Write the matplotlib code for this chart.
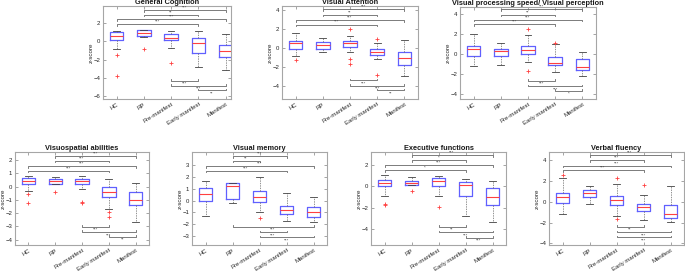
import matplotlib
matplotlib.use('Agg')
import matplotlib.pyplot as plt

plt.rcParams['font.family'] = ['Liberation Sans', 'DejaVu Sans']

groups = ['HC', 'RP', 'Pre-manifest', 'Early manifest', 'Manifest']

# (lower whisker, q1, median, q3, upper whisker) per group
gc_box = [(-0.87, 0.15, 0.55, 0.98, 1.15), (0.5, 0.58, 0.87, 1.2, 1.2),
          (-0.7, 0.15, 0.33, 0.76, 1.16), (-2.76, -1.27, -0.22, 0.36, 1.16),
          (-3.16, -1.75, -1.09, -0.44, 0.76)]
gc_out = [[-1.53, -3.8], [-0.87], [-2.33], [], []]
gc_top = [(2, 5, 3.42, '***'), (2, 4, 2.91, '**'), (1, 5, 2.4, '***'), (1, 4, 1.89, '***')]
gc_bot = [(3, 4, -4.29, '***'), (3, 5, -4.84, '***'), (4, 5, -5.35, '**')]

va_box = [(-0.91, -0.07, 0.49, 0.77, 1.54), (-0.46, -0.14, 0.28, 0.63, 1.09),
          (-0.39, 0.07, 0.49, 0.77, 1.26), (-1.19, -0.8, -0.49, -0.1, 0.49),
          (-2.98, -1.82, -1.09, -0.46, 0.81)]
va_out = [[-1.3], [], [1.96, -1.19, -1.68], [0.98, -2.88], []]
va_top = [(2, 5, 4.07, '***'), (2, 4, 3.5, '**'), (1, 5, 2.95, '***'), (1, 4, 2.46, '***')]
va_bot = [(3, 4, -3.44, '***'), (3, 5, -4.0, '***'), (4, 5, -4.49, '**')]

vp_box = [(-1.23, -0.23, 0.47, 0.77, 1.97), (-1.1, -0.2, 0.27, 0.47, 1.07),
          (-0.83, -0.03, 0.37, 0.83, 1.87), (-1.83, -1.13, -0.93, -0.27, 1.0),
          (-2.23, -1.63, -1.27, -0.53, 0.17)]
vp_out = [[], [], [2.47, -1.73], [1.13], []]
vp_top = [(2, 5, 4.47, '***'), (2, 4, 3.93, '**'), (1, 5, 3.43, '***'), (1, 4, 2.97, '***')]
vp_bot = [(3, 4, -2.67, '***'), (3, 5, -3.23, '***'), (4, 5, -3.7, '*')]

vs_box = [(-0.33, 0.2, 0.4, 0.63, 0.78), (0.18, 0.18, 0.4, 0.6, 0.7),
          (-0.18, 0.18, 0.4, 0.6, 0.83), (-1.68, -0.78, -0.43, 0.0, 0.6),
          (-2.68, -1.4, -1.0, -0.38, 0.23)]
vs_out = [[-0.58, -1.25], [-0.43], [-1.18, -1.25], [-1.93, -2.28], []]
vs_top = [(2, 5, 2.3, '***'), (2, 4, 1.95, '***'), (1, 5, 1.55, '***'), (1, 4, 1.2, '***')]
vs_bot = [(3, 4, -3.03, '***'), (3, 5, -3.43, '***'), (4, 5, -3.8, '**')]

vm_box = [(-1.31, 0.0, 0.58, 1.08, 1.67), (-0.19, 0.17, 1.19, 1.47, 1.47),
          (-1.0, -0.11, 0.28, 0.8, 1.94), (-1.72, -1.11, -0.83, -0.42, 0.64),
          (-1.83, -1.39, -0.92, -0.5, 0.31)]
vm_out = [[], [], [-1.47], [], []]
vm_top = [(2, 4, 3.72, '***'), (2, 3, 3.33, '**'), (1, 5, 2.89, '***'), (1, 4, 2.5, '***')]
vm_bot = [(2, 5, -2.22, '***'), (3, 4, -2.67, '***'), (3, 5, -3.08, '***')]

ef_box = [(-0.92, 0.03, 0.32, 0.63, 1.05), (0.13, 0.13, 0.32, 0.48, 0.89),
          (-0.95, 0.06, 0.54, 0.76, 0.95), (-2.79, -0.92, 0.13, 0.41, 0.7),
          (-3.4, -1.75, -1.02, -0.13, 0.48)]
ef_out = [[-1.65, -1.78], [-0.41], [-1.97], [], []]
ef_top = [(2, 5, 2.95, '***'), (2, 4, 2.48, '*'), (1, 5, 2.0, '***'), (1, 4, 1.52, '*')]
ef_bot = [(3, 4, -3.81, '**'), (3, 5, -4.35, '***'), (4, 5, -4.89, '***')]

vf_box = [(-1.13, -0.13, 0.45, 0.84, 2.29), (-0.19, 0.42, 0.84, 1.13, 1.48),
          (-1.35, -0.32, 0.13, 0.55, 1.71), (-1.77, -0.9, -0.48, -0.19, 0.65),
          (-1.94, -1.52, -1.16, -0.32, 1.48)]
vf_out = [[2.55], [], [2.29, -1.68], [1.65], []]
vf_top = [(2, 5, 4.48, '***'), (2, 4, 4.0, '***'), (1, 5, 3.48, '***'), (1, 4, 3.06, '***')]
vf_bot = [(3, 4, -2.42, '**'), (3, 5, -2.94, '***'), (3, 5, -3.42, '***')]


def panel(fig, px, title, box, out, top, bot, ylim, yticks, xlim=(0.5, 5.5)):
    # px = (left, right, top, bottom) in pixels
    W, H = 685, 271
    l, r, t, b = px
    ax = fig.add_axes([l / W, 1 - b / H, (r - l) / W, (b - t) / H])
    stats = []
    for (lo, q1, med, q3, hi), fl in zip(box, out):
        stats.append(dict(whislo=lo, q1=q1, med=med, q3=q3, whishi=hi, fliers=fl))
    ax.bxp(stats, positions=range(1, 6), widths=0.5, capwidths=0.25,
           boxprops=dict(color='#6060ff', lw=0.9),
           medianprops=dict(color='#ff4040', lw=0.8),
           whiskerprops=dict(color='0.4', lw=0.5, linestyle=(0, (2, 1.5))),
           capprops=dict(color='0.25', lw=0.6),
           flierprops=dict(marker='+', markeredgecolor='#ff4040', markersize=3.2,
                           mew=0.6, linestyle='none'))
    ax.set_xlim(*xlim)
    ax.set_ylim(*ylim)
    span = ylim[1] - ylim[0]
    tk = 0.018 * span
    for i, j, y, lab in top:
        ax.plot([i, i, j, j], [y - tk, y, y, y - tk], color='0.4', lw=0.6)
        ax.text((i + j) / 2, y + 0.004 * span, lab, ha='center', va='bottom',
                fontsize=3.2, color='0.25')
    for i, j, y, lab in bot:
        ax.plot([i, i, j, j], [y + tk, y, y, y + tk], color='0.4', lw=0.6)
        ax.text((i + j) / 2, y - 0.012 * span, lab, ha='center', va='top',
                fontsize=3.2, color='0.25')
    ax.set_yticks(yticks)
    ax.set_xticks(range(1, 6))
    ax.set_xticklabels(groups, rotation=32, ha='right', rotation_mode='anchor')
    ax.tick_params(labelsize=4.3, direction='in', length=2, width=0.5,
                   colors='0.5', labelcolor='0.15', top=True, right=True, pad=2)
    for s in ax.spines.values():
        s.set_color('0.65')
        s.set_linewidth(0.8)
    ax.set_ylabel('z-score', fontsize=4.5, labelpad=0, color='0.15')
    ax.set_title(title, fontsize=5.3, fontweight='bold', pad=1.2, color='0.1')
    return ax


fig = plt.figure(figsize=(6.85, 2.71), dpi=100)

panel(fig, (103, 231, 6, 99), 'General Cognition', gc_box, gc_out, gc_top, gc_bot,
      (-6.3, 3.85), [-6, -4, -2, 0, 2], xlim=(0.5, 5.2))
panel(fig, (282, 418, 6, 99), 'Visual Attention', va_box, va_out, va_top, va_bot,
      (-5.4, 4.42), [-4, -2, 0, 2, 4])
panel(fig, (460, 596, 7, 99), 'Visual processing speed/ Visual perception', vp_box,
      vp_out, vp_top, vp_bot, (-4.5, 4.7), [-4, -2, 0, 2, 4])
panel(fig, (15, 149, 152, 245), 'Visuospatial abilities', vs_box, vs_out, vs_top, vs_bot,
      (-4.4, 2.6), [-4, -3, -2, -1, 0, 1, 2])
panel(fig, (192, 327, 152, 245), 'Visual memory', vm_box, vm_out, vm_top, vm_bot,
      (-3.72, 4.06), [-3, -2, -1, 0, 1, 2, 3])
panel(fig, (371, 506, 152, 245), 'Executive functions', ef_box, ef_out, ef_top, ef_bot,
      (-5.56, 3.27), [-4, -2, 0, 2])
panel(fig, (549, 684, 152, 245), 'Verbal fluency', vf_box, vf_out, vf_top, vf_bot,
      (-4.16, 4.8), [-4, -2, 0, 2, 4])

fig.savefig('out.png', dpi=100)
